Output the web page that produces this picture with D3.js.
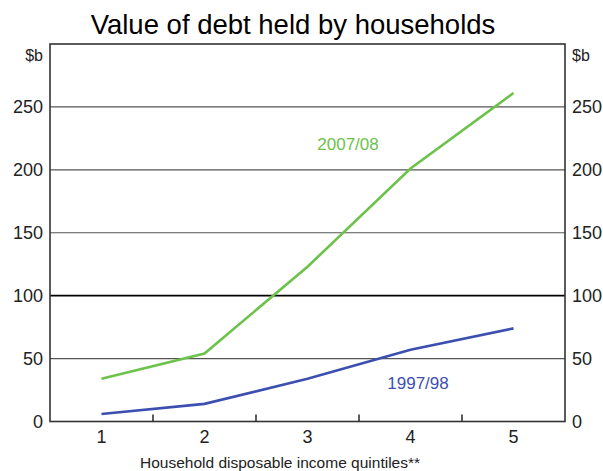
<!DOCTYPE html>
<html><head><meta charset="utf-8">
<script src="https://cdn.jsdelivr.net/npm/d3@7"></script>
<style>body{margin:0;background:#fff}svg{display:block;font-family:"Liberation Sans",Arial,sans-serif}</style>
</head><body>
<svg id="c" width="603" height="471"></svg>
<script>
const quintiles = ["1","2","3","4","5"];
const debt9798 = [6, 14, 34, 57, 74];
const debt0708 = [34, 54, 123, 201, 261];
const yTicks = [0, 50, 100, 150, 200, 250];
const seriesNames = ["1997/98", "2007/08"];
const title = "Value of debt held by households";
const xTitle = "Household disposable income quintiles**";
const unit = "$b";

const svg = d3.select("#c");
const m = {l: 50, r: 565, t: 44, b: 421.5};
const x = d3.scaleBand().domain(quintiles).range([m.l, m.r]);
const y = d3.scaleLinear().domain([0, 300]).range([m.b, m.t]);

svg.append("text").attr("x", 293).attr("y", 34).attr("text-anchor", "middle")
  .attr("font-size", 27.5).attr("fill", "#000").text(title);

// gridlines
svg.append("g").selectAll("line").data(yTicks.filter(d => d > 0)).join("line")
  .attr("x1", m.l).attr("x2", m.r).attr("y1", d => y(d)).attr("y2", d => y(d))
  .attr("stroke", d => d === 100 ? "#000" : "#555")
  .attr("stroke-width", d => d === 100 ? 1.6 : 1.2);

// frame
svg.append("rect").attr("x", m.l).attr("y", m.t).attr("width", m.r - m.l).attr("height", m.b - m.t)
  .attr("fill", "none").attr("stroke", "#333").attr("stroke-width", 1.6);

// x ticks at band boundaries
const bounds = quintiles.slice(1).map(q => x(q));
svg.append("g").selectAll("line").data(bounds).join("line")
  .attr("x1", d => d).attr("x2", d => d).attr("y1", m.b).attr("y2", m.b - 7)
  .attr("stroke", "#333").attr("stroke-width", 1.6);

// y axes labels
const yl = d3.axisLeft(y).tickValues(yTicks).tickSize(0).tickPadding(7);
const gl = svg.append("g").attr("transform", `translate(${m.l},0)`).call(yl);
const yr = d3.axisRight(y).tickValues(yTicks).tickSize(0).tickPadding(7);
const gr = svg.append("g").attr("transform", `translate(${m.r},0)`).call(yr);
[gl, gr].forEach(g => {
  g.select(".domain").remove();
  g.selectAll("text").attr("font-size", 18).attr("fill", "#222").attr("font-family", "Liberation Sans, Arial, sans-serif");
});

svg.append("text").attr("x", 43).attr("y", 61).attr("text-anchor", "end")
  .attr("font-size", 16).attr("fill", "#222").text(unit);
svg.append("text").attr("x", 572).attr("y", 61).attr("text-anchor", "start")
  .attr("font-size", 16).attr("fill", "#222").text(unit);

// x axis labels
const xa = d3.axisBottom(x).tickSize(0).tickPadding(9);
const gx = svg.append("g").attr("transform", `translate(0,${m.b})`).call(xa);
gx.select(".domain").remove();
gx.selectAll("text").attr("font-size", 18).attr("fill", "#222").attr("font-family", "Liberation Sans, Arial, sans-serif");

svg.append("text").attr("x", 280).attr("y", 468).attr("text-anchor", "middle")
  .attr("font-size", 15.5).attr("fill", "#222").text(xTitle);

// lines
const line = d3.line().x((d, i) => x(quintiles[i]) + x.bandwidth() / 2).y(d => y(d));
svg.append("path").datum(debt0708).attr("d", line).attr("fill", "none")
  .attr("stroke", "#6cc24a").attr("stroke-width", 2.6);
svg.append("path").datum(debt9798).attr("d", line).attr("fill", "none")
  .attr("stroke", "#3c4fb0").attr("stroke-width", 2.6);

svg.append("text").attr("x", 348).attr("y", 150).attr("text-anchor", "middle")
  .attr("font-size", 17).attr("fill", "#6cc24a").text(seriesNames[1]);
svg.append("text").attr("x", 418).attr("y", 389).attr("text-anchor", "middle")
  .attr("font-size", 17).attr("fill", "#3c4fb0").text(seriesNames[0]);
</script>
</body></html>
